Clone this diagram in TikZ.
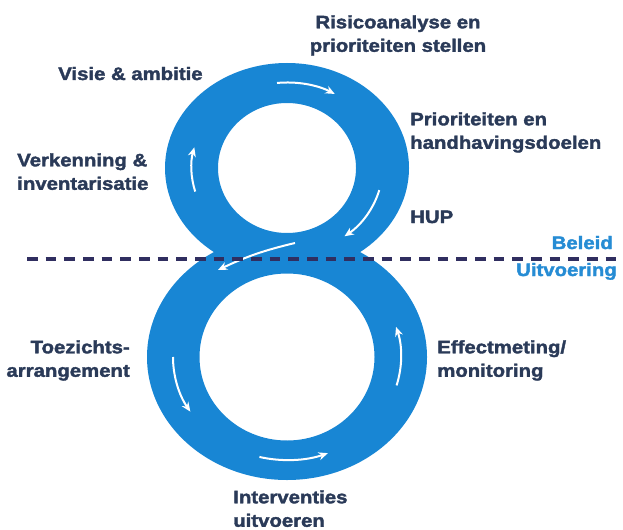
\documentclass[tikz,border=0pt]{standalone}
\usepackage{fontspec}
\setmainfont{Liberation Sans}[FakeStretch=1.13, FakeBold=2]
\usepackage{xcolor}
\usetikzlibrary{arrows.meta}
\definecolor{ringblue}{RGB}{24,134,212}
\definecolor{textnavy}{RGB}{42,58,88}
\definecolor{phaseblue}{RGB}{38,140,212}
\definecolor{dashnavy}{RGB}{48,46,96}
\tikzset{>=latex}

\begin{document}
\begin{tikzpicture}[x=0.75pt, y=0.75pt, >={Stealth[length=7pt, width=6pt]},
    lbl/.style={font=\fontsize{13.5}{17.6}\selectfont\bfseries, text=textnavy, inner sep=0pt},
    flow/.style={white, line width=1.5pt, ->}]
    \useasboundingbox (0,0) rectangle (623,529);
    \coordinate (upper) at (287,361);
    \coordinate (lower) at (287,172);
    % the two loops of the eight
    \fill[ringblue, even odd rule] (upper) ellipse (122 and 105) (upper) ellipse (69 and 65);
    \fill[ringblue, even odd rule] (lower) ellipse (140 and 123) (lower) ellipse (87.5 and 83.5);
    \draw[flow] ([shift={(96:95.5 and 85.5)}]upper) arc[start angle=96, end angle=60, x radius=95.5, y radius=85.5];
    \draw[flow] ([shift={(196:95.5 and 85.5)}]upper) arc[start angle=196, end angle=166, x radius=95.5, y radius=85.5];
    \draw[flow] ([shift={(-15:95.5 and 85.5)}]upper) arc[start angle=-15, end angle=-53, x radius=95.5, y radius=85.5];
    \draw[flow] (295,286) to[bend right=6] (218,259);
    \draw[flow] ([shift={(180:114 and 103)}]lower) arc[start angle=180, end angle=212, x radius=114, y radius=103];
    \draw[flow] ([shift={(256:114 and 103)}]lower) arc[start angle=256, end angle=291, x radius=114, y radius=103];
    \draw[flow] ([shift={(-16:114 and 103)}]lower) arc[start angle=-16, end angle=17, x radius=114, y radius=103];
    \node[lbl, anchor=north, align=center] (risico) at (398,514) {Risicoanalyse en\\prioriteiten stellen};
    \node[lbl, anchor=base west] (visie) at (58,449) {Visie \& ambitie};
    \node[lbl, anchor=north west, align=left] (prio) at (410,417) {Prioriteiten en\\handhavingsdoelen};
    \node[lbl, anchor=base west] (hup) at (410,306) {HUP};
    \node[lbl, anchor=north west, align=left] (verk) at (17,376) {Verkenning \&\\inventarisatie};
    \node[lbl, anchor=north east, align=right] (toez) at (130,189) {Toezichts-\\arrangement};
    \node[lbl, anchor=north west, align=left] (effect) at (437,189) {Effectmeting/\\monitoring};
    \node[lbl, anchor=north west, align=left] (interv) at (233,39) {Interventies\\uitvoeren};
    \node[lbl, text=phaseblue, anchor=base east] (beleid) at (613,280) {Beleid};
    \node[lbl, text=phaseblue, anchor=base east] (uitv) at (617,253) {Uitvoering};
    \draw[dashnavy, line width=2.3pt, dash pattern=on 8pt off 6pt] (27,270) -- (623,270);
\end{tikzpicture}
\end{document}
